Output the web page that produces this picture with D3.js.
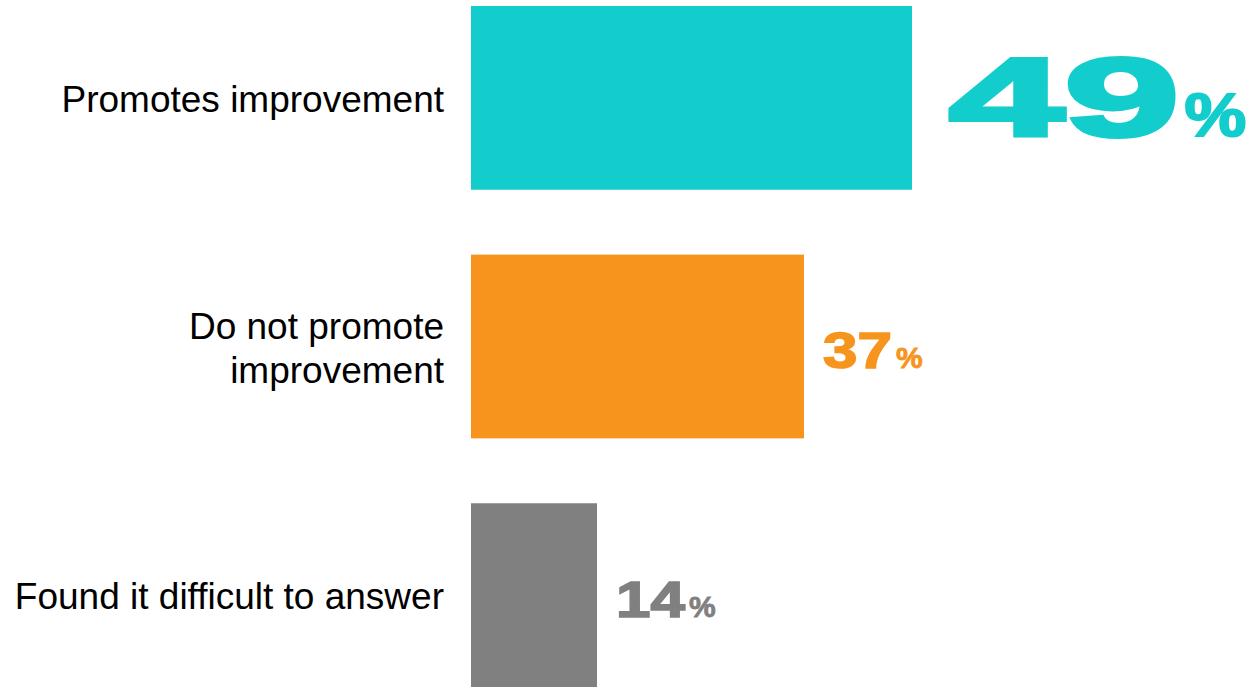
<!DOCTYPE html>
<html>
<head>
<meta charset="utf-8">
<script src="https://cdn.jsdelivr.net/npm/d3@7"></script>
<style>
  html, body { margin: 0; padding: 0; background: #ffffff; }
  svg { display: block; }
</style>
</head>
<body>
<svg id="chart" width="1253" height="687"></svg>
<script>
// Survey answers and their shares (%)
const categories = ["Promotes improvement", "Do not promote improvement", "Found it difficult to answer"];
const labelLines = [["Promotes improvement"], ["Do not promote", "improvement"], ["Found it difficult to answer"]];
const values = [49, 37, 14];
const colors = ["#13cdcd", "#f7941d", "#808080"];

const W = 1253, H = 687;
const svg = d3.select("#chart");

const x = d3.scaleLinear().domain([0, 49]).range([471, 912]);
const y = d3.scaleBand().domain(categories).range([6, 687]).paddingInner(0.261).paddingOuter(0);

const rows = categories.map((c, i) => ({ cat: c, lines: labelLines[i], value: values[i], color: colors[i] }));
const maxVal = d3.max(values);

// Bars
svg.append("g").selectAll("rect").data(rows).join("rect")
  .attr("x", x(0))
  .attr("y", d => y(d.cat))
  .attr("width", d => x(d.value) - x(0))
  .attr("height", y.bandwidth())
  .attr("fill", d => d.color);

// Category labels, right aligned next to the bars
const lineGap = 44;
svg.append("g").selectAll("text").data(rows).join("text")
  .attr("text-anchor", "end")
  .attr("font-family", "'Liberation Sans', Arial, sans-serif")
  .attr("font-size", 37)
  .attr("fill", "#000")
  .each(function (d) {
    const cy = y(d.cat) + y.bandwidth() / 2;
    const n = d.lines.length;
    const t = d3.select(this);
    d.lines.forEach((ln, k) => {
      t.append("tspan")
        .attr("x", 444)
        .attr("y", cy + 14 + (k - (n - 1) / 2) * lineGap)
        .text(ln);
    });
  });

// Value labels: heavy stretched numbers with a smaller percent sign
const valueG = svg.append("g");
rows.forEach(d => {
  const big = d.value === maxVal;
  const numSize = big ? 112 : 50;
  const numStretch = big ? 1.85 : 1.24;
  const numStroke = big ? 4 : 1.6;
  const pctSize = big ? 62 : 30;
  const pctStretch = big ? 1.12 : 1.0;
  const pctStroke = big ? 2 : 0.8;
  const gap = big ? 37 : 19;
  const cy = y(d.cat) + y.bandwidth() / 2;
  const baseline = big ? cy + 38 : cy + 21.5;
  const x0 = x(d.value) + gap;

  const g = valueG.append("g");
  const num = g.append("text")
    .attr("font-family", "'Liberation Sans', Arial, sans-serif")
    .attr("font-weight", "bold")
    .attr("font-size", numSize)
    .attr("fill", d.color)
    .attr("stroke", d.color)
    .attr("stroke-width", numStroke)
    .attr("stroke-linejoin", "miter")
    .attr("transform", `translate(${x0},${baseline}) scale(${numStretch},1)`)
    .text(d.value);
  const numW = num.node().getComputedTextLength() * numStretch;
  g.append("text")
    .attr("font-family", "'Liberation Sans', Arial, sans-serif")
    .attr("font-weight", "bold")
    .attr("font-size", pctSize)
    .attr("fill", d.color)
    .attr("stroke", d.color)
    .attr("stroke-width", pctStroke)
    .attr("transform", `translate(${x0 + numW + (big ? 5 : 4)},${baseline}) scale(${pctStretch},1)`)
    .text("%");
});
</script>
</body>
</html>
